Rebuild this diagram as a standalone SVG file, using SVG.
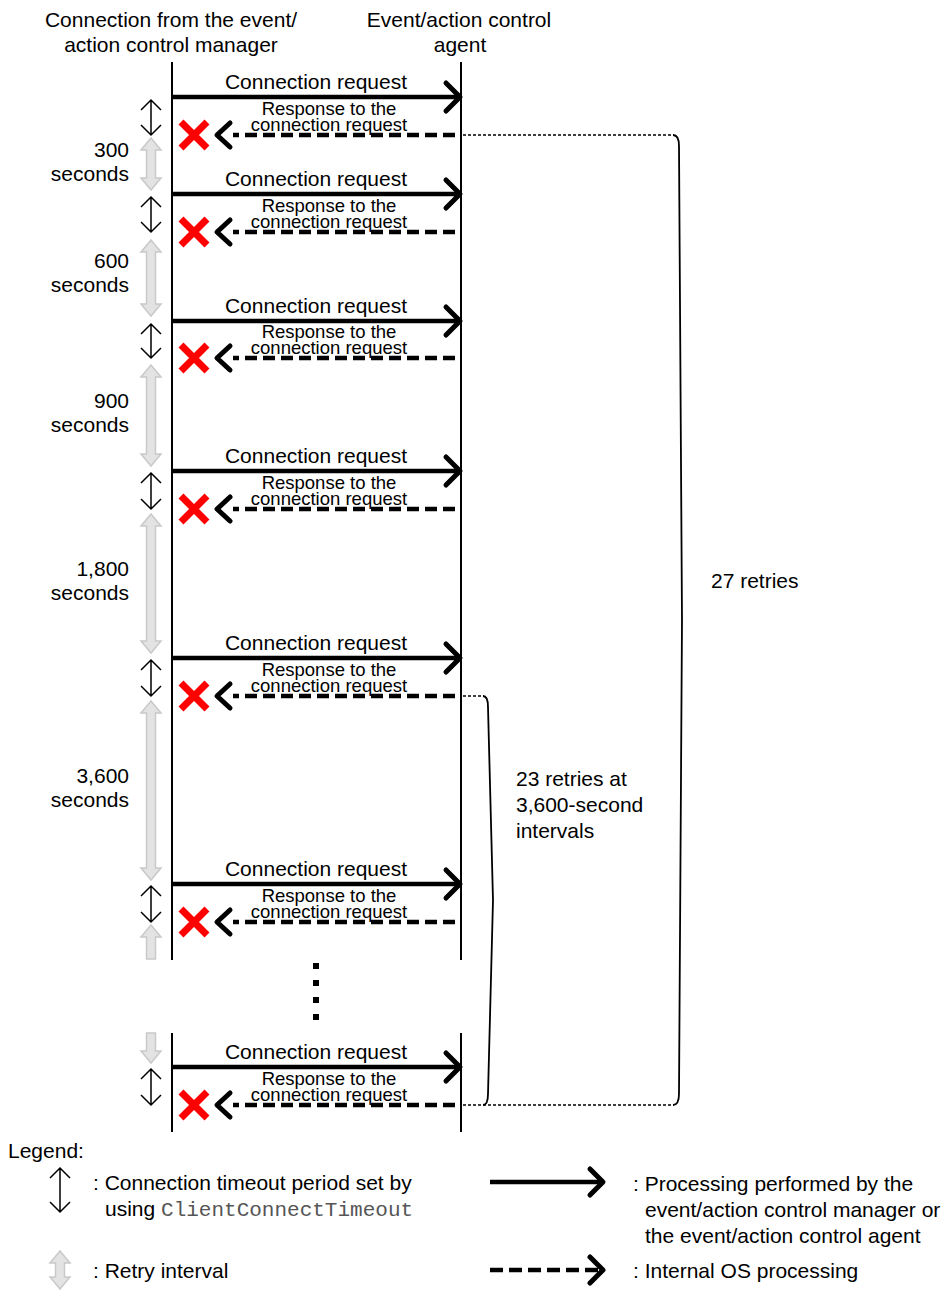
<svg xmlns="http://www.w3.org/2000/svg" width="947" height="1290" viewBox="0 0 947 1290">
<style>
text{font-family:"Liberation Sans",Arial,sans-serif;fill:#000}
.t{font-size:21px}
.c{text-anchor:middle}
.r{text-anchor:end}
.rsp{font-size:18.5px;text-anchor:middle}
.mono{font-family:"Liberation Mono","Courier New",monospace;fill:#555}
.life{stroke:#000;stroke-width:2;fill:none}
.req{stroke:#000;stroke-width:4.5;fill:none}
.resp{stroke:#000;stroke-width:4.5;stroke-dasharray:12 6;fill:none}
.head{stroke:#000;stroke-width:5;fill:none;stroke-linecap:round;stroke-linejoin:round}
.x{stroke:#ff0000;stroke-width:7;fill:none}
.to{stroke:#000;stroke-width:1.5;fill:none}
.gray{fill:#e3e3e3;stroke:#c9c9c9;stroke-width:1.5}
.dot{stroke:#000;stroke-width:1.5;stroke-dasharray:3 2;fill:none}
.br{stroke:#000;stroke-width:1.8;fill:none}
</style>

<g id="header">
<text class="t c" x="171" y="27">Connection from the event/</text>
<text class="t c" x="171" y="52">action control manager</text>
<text class="t c" x="459" y="27">Event/action control</text>
<text class="t c" x="460" y="52">agent</text>
</g>

<g id="lifelines">
<line class="life" x1="172" y1="62" x2="172" y2="960"/>
<line class="life" x1="461" y1="62" x2="461" y2="960"/>
<line class="life" x1="172" y1="1033" x2="172" y2="1132"/>
<line class="life" x1="461" y1="1033" x2="461" y2="1132"/>
</g>

<g id="connectors">
<g id="row1">
<line class="req" x1="172" y1="97" x2="457" y2="97"/>
<polyline class="head" points="446,83 460,97 446,111"/>
<line class="resp" x1="455" y1="135" x2="233" y2="135"/>
<polyline class="head" points="230,123 217,135 230,147"/>
</g>
<g id="row2">
<line class="req" x1="172" y1="194" x2="457" y2="194"/>
<polyline class="head" points="446,180 460,194 446,208"/>
<line class="resp" x1="455" y1="232" x2="233" y2="232"/>
<polyline class="head" points="230,220 217,232 230,244"/>
</g>
<g id="row3">
<line class="req" x1="172" y1="321" x2="457" y2="321"/>
<polyline class="head" points="446,307 460,321 446,335"/>
<line class="resp" x1="455" y1="358" x2="233" y2="358"/>
<polyline class="head" points="230,346 217,358 230,370"/>
</g>
<g id="row4">
<line class="req" x1="172" y1="471" x2="457" y2="471"/>
<polyline class="head" points="446,457 460,471 446,485"/>
<line class="resp" x1="455" y1="509" x2="233" y2="509"/>
<polyline class="head" points="230,497 217,509 230,521"/>
</g>
<g id="row5">
<line class="req" x1="172" y1="658" x2="457" y2="658"/>
<polyline class="head" points="446,644 460,658 446,672"/>
<line class="resp" x1="455" y1="696" x2="233" y2="696"/>
<polyline class="head" points="230,684 217,696 230,708"/>
</g>
<g id="row6">
<line class="req" x1="172" y1="884" x2="457" y2="884"/>
<polyline class="head" points="446,870 460,884 446,898"/>
<line class="resp" x1="455" y1="922" x2="233" y2="922"/>
<polyline class="head" points="230,910 217,922 230,934"/>
</g>
<g id="row7">
<line class="req" x1="172" y1="1067" x2="457" y2="1067"/>
<polyline class="head" points="446,1053 460,1067 446,1081"/>
<line class="resp" x1="455" y1="1105" x2="233" y2="1105"/>
<polyline class="head" points="230,1093 217,1105 230,1117"/>
</g>
<g id="brackets">
<path class="dot" d="M463 135 H674"/>
<path class="br" d="M673 135 Q679 135 679 146 L682 620 L679 1094 Q679 1105 673 1105"/>
<path class="dot" d="M463 696 H484"/>
<path class="br" d="M483 696 Q488 696 488 707 L493 900 L488 1094 Q488 1105 483 1105"/>
<path class="dot" d="M463 1105 H674"/>
</g>
</g>

<g id="labels">
<text class="t c" x="316" y="89">Connection request</text>
<text class="rsp" x="329" y="115">Response to the</text>
<text class="rsp" x="329" y="131">connection request</text>
<text class="t c" x="316" y="186">Connection request</text>
<text class="rsp" x="329" y="212">Response to the</text>
<text class="rsp" x="329" y="228">connection request</text>
<text class="t c" x="316" y="313">Connection request</text>
<text class="rsp" x="329" y="338">Response to the</text>
<text class="rsp" x="329" y="354">connection request</text>
<text class="t c" x="316" y="463">Connection request</text>
<text class="rsp" x="329" y="489">Response to the</text>
<text class="rsp" x="329" y="505">connection request</text>
<text class="t c" x="316" y="650">Connection request</text>
<text class="rsp" x="329" y="676">Response to the</text>
<text class="rsp" x="329" y="692">connection request</text>
<text class="t c" x="316" y="876">Connection request</text>
<text class="rsp" x="329" y="902">Response to the</text>
<text class="rsp" x="329" y="918">connection request</text>
<text class="t c" x="316" y="1059">Connection request</text>
<text class="rsp" x="329" y="1085">Response to the</text>
<text class="rsp" x="329" y="1101">connection request</text>
</g>

<g id="failures">
<path class="x" d="M181 122 L207 148 M181 148 L207 122"/>
<path class="x" d="M181 219 L207 245 M181 245 L207 219"/>
<path class="x" d="M181 345 L207 371 M181 371 L207 345"/>
<path class="x" d="M181 496 L207 522 M181 522 L207 496"/>
<path class="x" d="M181 683 L207 709 M181 709 L207 683"/>
<path class="x" d="M181 909 L207 935 M181 935 L207 909"/>
<path class="x" d="M181 1092 L207 1118 M181 1118 L207 1092"/>
</g>

<g id="timeouts">
<path class="to" d="M151 100 V135 M141 110 L151 100 L161 110 M141 125 L151 135 L161 125"/>
<path class="to" d="M151 197 V232 M141 207 L151 197 L161 207 M141 222 L151 232 L161 222"/>
<path class="to" d="M151 324 V358 M141 334 L151 324 L161 334 M141 348 L151 358 L161 348"/>
<path class="to" d="M151 473 V509 M141 483 L151 473 L161 483 M141 499 L151 509 L161 499"/>
<path class="to" d="M151 660 V696 M141 670 L151 660 L161 670 M141 686 L151 696 L161 686"/>
<path class="to" d="M151 886 V922 M141 896 L151 886 L161 896 M141 912 L151 922 L161 912"/>
<path class="to" d="M151 1069 V1105 M141 1079 L151 1069 L161 1079 M141 1095 L151 1105 L161 1095"/>
</g>

<g id="intervals">
<path class="gray" d="M151,138 L161,150 L155.5,150 L155.5,178 L161,178 L151,190 L141,178 L146.5,178 L146.5,150 L141,150 Z"/>
<path class="gray" d="M151,240 L161,252 L155.5,252 L155.5,304 L161,304 L151,316 L141,304 L146.5,304 L146.5,252 L141,252 Z"/>
<path class="gray" d="M151,365 L161,377 L155.5,377 L155.5,454 L161,454 L151,466 L141,454 L146.5,454 L146.5,377 L141,377 Z"/>
<path class="gray" d="M151,514 L161,526 L155.5,526 L155.5,641 L161,641 L151,653 L141,641 L146.5,641 L146.5,526 L141,526 Z"/>
<path class="gray" d="M151,701 L161,713 L155.5,713 L155.5,868 L161,868 L151,880 L141,868 L146.5,868 L146.5,713 L141,713 Z"/>
<path class="gray" d="M151,925 L161,937 L155.5,937 L155.5,959 L146.5,959 L146.5,937 L141,937 Z"/>
<path class="gray" d="M146.5,1033 L155.5,1033 L155.5,1051 L161,1051 L151,1063 L141,1051 L146.5,1051 Z"/>
<text class="t r" x="129" y="157">300</text>
<text class="t r" x="129" y="181">seconds</text>
<text class="t r" x="129" y="268">600</text>
<text class="t r" x="129" y="292">seconds</text>
<text class="t r" x="129" y="408">900</text>
<text class="t r" x="129" y="432">seconds</text>
<text class="t r" x="129" y="576">1,800</text>
<text class="t r" x="129" y="600">seconds</text>
<text class="t r" x="129" y="783">3,600</text>
<text class="t r" x="129" y="807">seconds</text>
</g>

<g id="ellipsis">
<rect x="313" y="963" width="6" height="6"/>
<rect x="313" y="980" width="6" height="6"/>
<rect x="313" y="997" width="6" height="6"/>
<rect x="313" y="1014" width="6" height="6"/>
</g>

<g id="retries">
<text class="t" x="711" y="588">27 retries</text>
<text class="t" x="516" y="786">23 retries at</text>
<text class="t" x="516" y="812">3,600-second</text>
<text class="t" x="516" y="838">intervals</text>
</g>

<g id="legend">
<text class="t" x="8" y="1158">Legend:</text>
<path class="to" d="M60 1168 V1212 M50 1178 L60 1168 L70 1178 M50 1202 L60 1212 L70 1202"/>
<text class="t" x="93" y="1190">: Connection timeout period set by</text>
<text class="t" x="105" y="1216">using <tspan class="mono">ClientConnectTimeout</tspan></text>
<path class="gray" d="M60,1251 L70,1263 L64.5,1263 L64.5,1277 L70,1277 L60,1289 L50,1277 L55.5,1277 L55.5,1263 L50,1263 Z"/>
<text class="t" x="93" y="1278">: Retry interval</text>
<line class="req" x1="490" y1="1182" x2="600" y2="1182"/>
<polyline class="head" points="590,1169 603,1182 590,1195"/>
<text class="t" x="633" y="1191">: Processing performed by the</text>
<text class="t" x="645" y="1217">event/action control manager or</text>
<text class="t" x="645" y="1243">the event/action control agent</text>
<path class="resp" style="stroke-dasharray:13 6" d="M490 1270 H598"/>
<polyline class="head" points="590,1257 603,1270 590,1283"/>
<text class="t" x="633" y="1278">: Internal OS processing</text>
</g>
</svg>
